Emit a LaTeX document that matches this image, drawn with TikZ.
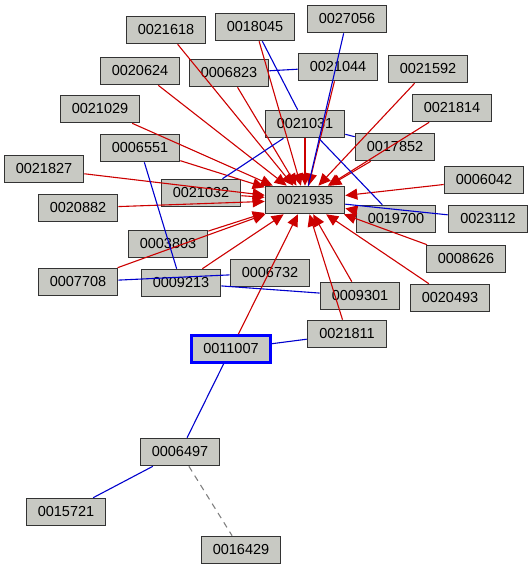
\documentclass[tikz,border=0pt]{standalone}
\usepackage{fontspec}
\setmainfont{Liberation Sans}
\usetikzlibrary{arrows.meta}
\definecolor{boxgray}{RGB}{200,201,195}
\definecolor{citered}{RGB}{204,0,0}
\definecolor{linkblue}{RGB}{0,0,205}

\begin{document}
\begin{tikzpicture}[x=1pt, y=-1pt,
    paper/.style={draw=black!80, line width=1.6pt, fill=boxgray, minimum width=79pt, minimum height=27pt, inner sep=0pt, font=\fontsize{14.5}{16}\selectfont},
    focus/.style={paper, draw=blue, line width=2.5pt},
    cite/.style={citered, line width=1.1pt, -{Triangle[length=12pt, width=11pt]}},
    link/.style={linkblue, line width=1.1pt},
    weak/.style={gray, line width=1.1pt, dash pattern=on 6pt off 5pt}
]
\useasboundingbox (0,0) rectangle (532,570);

% --- Nodos (arriba) ---
\node[paper] (p21618) at (166, 30) {0021618};
\node[paper] (p18045) at (255, 27) {0018045};
\node[paper] (p27056) at (347, 19) {0027056};
\node[paper] (p20624) at (140, 71) {0020624};
\node[paper] (p06823) at (229, 73) {0006823};
\node[paper] (p21044) at (338, 67) {0021044};
\node[paper] (p21592) at (428, 69) {0021592};
\node[paper] (p21029) at (100, 109) {0021029};
\node[paper] (p21814) at (452, 108) {0021814};
\node[paper] (p21031) at (305, 124) {0021031};
\node[paper] (p06551) at (140, 148) {0006551};
\node[paper] (p17852) at (395, 147) {0017852};
\node[paper] (p21827) at (44, 169) {0021827};
\node[paper] (p06042) at (484, 180) {0006042};

% --- Nodos (centro) ---
\node[paper] (p21032) at (201, 193) {0021032};
\node[paper] (p21935) at (305, 200) {0021935};
\node[paper] (p20882) at (78, 208) {0020882};
\node[paper] (p19700) at (396, 219) {0019700};
\node[paper] (p23112) at (488, 219) {0023112};
\node[paper] (p03803) at (168, 244) {0003803};
\node[paper] (p08626) at (466, 259) {0008626};
\node[paper] (p07708) at (78, 282) {0007708};
\node[paper] (p06732) at (270, 273) {0006732};
\node[paper] (p09213) at (181, 283) {0009213};
\node[paper] (p09301) at (360, 296) {0009301};
\node[paper] (p20493) at (450, 298) {0020493};
\node[paper] (p21811) at (347, 334) {0021811};
\node[focus] (p11007) at (231, 349) {0011007};

% --- Nodos (abajo) ---
\node[paper] (p06497) at (180, 452) {0006497};
\node[paper] (p15721) at (66, 512) {0015721};
\node[paper] (p16429) at (241, 550) {0016429};

% --- Citas hacia 0021935 ---
\draw[cite] (p21618) -- (p21935);
\draw[cite] (p18045) -- (p21935);
\draw[cite] (p20624) -- (p21935);
\draw[cite] (p06823) -- (p21935);
\draw[cite] (p21044) -- (p21935);
\draw[cite] (p21029) -- (p21935);
\draw[cite] (p21592) -- (p21935);
\draw[cite] (p21814) -- (p21935);
\draw[cite] (p21031) -- (p21935);
\draw[cite] (p06551) -- (p21935);
\draw[cite] (p17852) -- (p21935);
\draw[cite] (p21827) -- (p21935);
\draw[cite] (p21032) -- (p21935);
\draw[cite] (p20882) -- (p21935);
\draw[cite] (p06042) -- (p21935);
\draw[cite] (p19700) -- (p21935);
\draw[cite] (p08626) -- (p21935);
\draw[cite] (p20493) -- (p21935);
\draw[cite] (p09301) -- (p21935);
\draw[cite] (p21811) -- (p21935);
\draw[cite] (p11007) -- (p21935);
\draw[cite] (p09213) -- (p21935);
\draw[cite] (p07708) -- (p21935);
\draw[cite] (p03803) -- (p21935);

% --- Enlaces azules ---
\draw[link] (p27056) -- (p21935);
\draw[link] (p18045) -- (p21031);
\draw[link] (p06823) -- (p21044);
\draw[link] (p21031) -- (p17852);
\draw[link] (p21031) -- (p19700);
\draw[link] (p21031) -- (p21032);
\draw[link] (p21935) -- (p23112);
\draw[link] (p06551) -- (p09213);
\draw[link] (p07708) -- (p06732);
\draw[link] (p09213) -- (p09301);
\draw[link] (p11007) -- (p21811);
\draw[link] (p11007) -- (p06497);
\draw[link] (p06497) -- (p15721);

% Enlace discontinuo
\draw[weak] (p06497) -- (p16429);

\end{tikzpicture}
\end{document}
